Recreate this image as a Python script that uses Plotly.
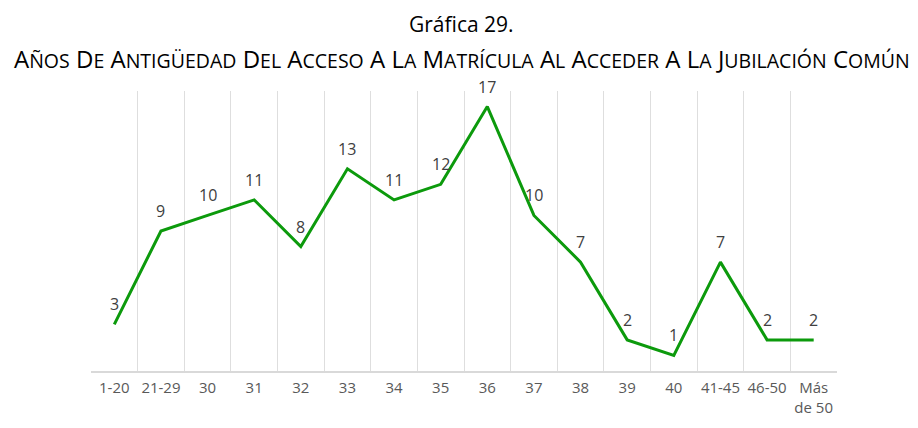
import plotly.graph_objects as go

categorias = ["1-20", "21-29", "30", "31", "32", "33", "34", "35", "36",
              "37", "38", "39", "40", "41-45", "46-50", "Más<br>de 50"]
valores = [3, 9, 10, 11, 8, 13, 11, 12, 17, 10, 7, 2, 1, 7, 2, 2]

titulo = "Gráfica 29."
subtitulo = "AÑOS DE ANTIGÜEDAD DEL ACCESO A LA MATRÍCULA AL ACCEDER A LA JUBILACIÓN COMÚN"


def versalitas(texto, grande=24, chica=19.5):
    # imitar las versalitas de Excel: primera letra grande, resto pequeño
    partes = []
    for palabra in texto.split(" "):
        partes.append(
            f"<span style='font-size:{grande}px'>{palabra[0]}</span>"
            f"<span style='font-size:{chica}px'>{palabra[1:]}</span>"
        )
    return " ".join(partes)


fig = go.Figure()

fig.add_trace(
    go.Scatter(x=categorias,
               y=valores,
               mode="lines",
               line=dict(color="#0c9a0c", width=3),
               showlegend=False,
               hoverinfo="skip")
)

# etiquetas de datos encima de cada punto (x por posición de categoría,
# porque "30", "31"... se leerían como índices)
for i, v in enumerate(valores):
    fig.add_annotation(x=i, y=v, text=str(v), showarrow=False,
                       yshift=20, xanchor="center", yanchor="middle",
                       font=dict(size=16, color="#404040"))

fig.add_annotation(text=titulo, xref="paper", yref="paper",
                   x=0.497, y=1.24, showarrow=False,
                   xanchor="center", yanchor="middle",
                   font=dict(size=21, color="#000000"))
fig.add_annotation(text=versalitas(subtitulo), xref="paper", yref="paper",
                   x=0.497, y=1.115, showarrow=False,
                   xanchor="center", yanchor="middle",
                   font=dict(size=24, color="#000000"))

fig.update_layout(width=902,
                  height=412,
                  margin=dict(l=83, r=73, t=83, b=49),
                  paper_bgcolor="white",
                  plot_bgcolor="white",
                  font=dict(family="Open Sans, Noto Sans, sans-serif"))

fig.update_xaxes(type="category",
                 tickson="boundaries",
                 showgrid=True,
                 gridcolor="#dedede",
                 gridwidth=1,
                 showline=True,
                 linecolor="#d9d9d9",
                 linewidth=2,
                 ticks="",
                 tickangle=0,
                 automargin=False,
                 ticklabelstandoff=2,
                 tickfont=dict(size=15, color="#595959"),
                 range=[-0.5, 15.5])

fig.update_yaxes(range=[0, 18],
                 visible=False,
                 showgrid=False,
                 zeroline=False)

fig.write_html("out.html")
